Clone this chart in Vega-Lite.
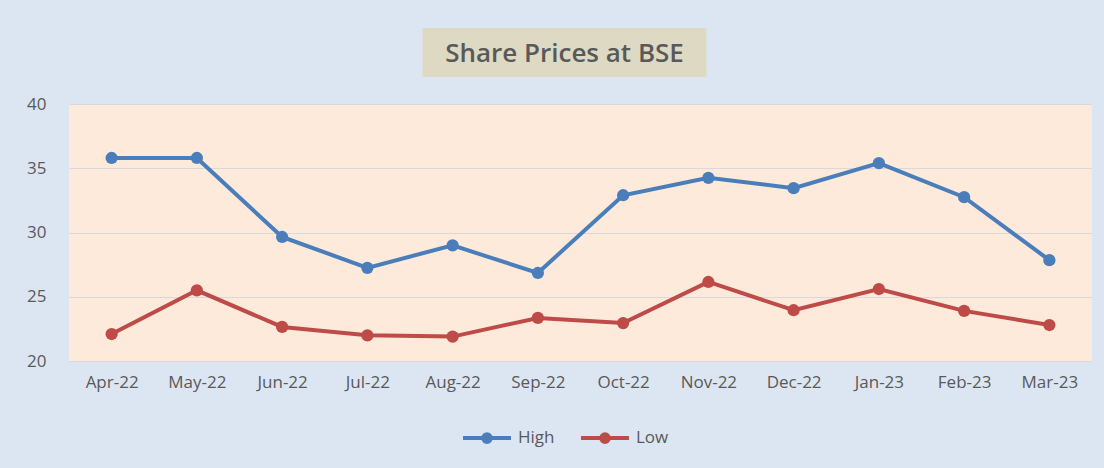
{
  "$schema": "https://vega.github.io/schema/vega-lite/v6.json",
  "background": "#dce6f2",
  "padding": {"left": 11, "top": 28, "right": 12, "bottom": 19},
  "config": {
    "font": "Open Sans",
    "view": {"fill": "#fdeada", "stroke": null}
  },
  "vconcat": [
    {
      "hconcat": [
        {
          "width": 284,
          "height": 49,
          "view": {"fill": "#ddd9c3", "stroke": null},
          "data": {"values": [{"t": "Share Prices at BSE"}]},
          "mark": {"type": "text", "font": "Open Sans", "fontSize": 26, "fontWeight": 600, "color": "#595959", "align": "center", "baseline": "middle", "dy": 1},
          "encoding": {"text": {"field": "t", "type": "nominal"}}
        },
        {
          "width": 32,
          "height": 49,
          "view": {"fill": null, "stroke": null},
          "data": {"values": [{"t": ""}]},
          "mark": {"type": "text"},
          "encoding": {"text": {"field": "t", "type": "nominal"}}
        }
      ],
      "spacing": 0
    },
    {
      "width": 1023,
      "height": 257,
      "data": {"values": [
        {"month": "Apr-22", "series": "High", "price": 35.8},
        {"month": "May-22", "series": "High", "price": 35.8},
        {"month": "Jun-22", "series": "High", "price": 29.65},
        {"month": "Jul-22", "series": "High", "price": 27.25},
        {"month": "Aug-22", "series": "High", "price": 29.0},
        {"month": "Sep-22", "series": "High", "price": 26.85},
        {"month": "Oct-22", "series": "High", "price": 32.9},
        {"month": "Nov-22", "series": "High", "price": 34.25},
        {"month": "Dec-22", "series": "High", "price": 33.45},
        {"month": "Jan-23", "series": "High", "price": 35.4},
        {"month": "Feb-23", "series": "High", "price": 32.75},
        {"month": "Mar-23", "series": "High", "price": 27.85},
        {"month": "Apr-22", "series": "Low", "price": 22.1},
        {"month": "May-22", "series": "Low", "price": 25.5},
        {"month": "Jun-22", "series": "Low", "price": 22.65},
        {"month": "Jul-22", "series": "Low", "price": 22.0},
        {"month": "Aug-22", "series": "Low", "price": 21.9},
        {"month": "Sep-22", "series": "Low", "price": 23.35},
        {"month": "Oct-22", "series": "Low", "price": 22.95},
        {"month": "Nov-22", "series": "Low", "price": 26.15},
        {"month": "Dec-22", "series": "Low", "price": 23.95},
        {"month": "Jan-23", "series": "Low", "price": 25.6},
        {"month": "Feb-23", "series": "Low", "price": 23.9},
        {"month": "Mar-23", "series": "Low", "price": 22.8}
      ]},
      "mark": {"type": "line", "strokeWidth": 4, "point": {"filled": true, "size": 150, "opacity": 1}},
      "encoding": {
        "x": {
          "field": "month", "type": "ordinal",
          "sort": ["Apr-22","May-22","Jun-22","Jul-22","Aug-22","Sep-22","Oct-22","Nov-22","Dec-22","Jan-23","Feb-23","Mar-23"],
          "scale": {"type": "point", "padding": 0.5},
          "axis": {"title": null, "labelAngle": 0, "labelFontSize": 17, "labelColor": "#595959", "domain": false, "ticks": false, "tickSize": 0, "labelPadding": 13, "grid": false}
        },
        "y": {
          "field": "price", "type": "quantitative",
          "scale": {"domain": [20, 40], "nice": false, "zero": false},
          "axis": {"title": null, "values": [20, 25, 30, 35, 40], "labelFontSize": 17, "labelColor": "#595959", "domain": false, "ticks": false, "tickSize": 0, "labelPadding": 23, "grid": true, "gridColor": "#d9d9d9", "gridWidth": 1.2, "minExtent": 58, "maxExtent": 58}
        },
        "color": {
          "field": "series", "type": "nominal",
          "scale": {"domain": ["High", "Low"], "range": ["#4a7ebb", "#be4b48"]},
          "legend": {
            "orient": "none", "legendX": 392, "legendY": 384, "direction": "horizontal",
            "title": null, "labelFontSize": 17, "labelColor": "#595959", "padding": 0,
            "symbolType": "M -1 0 L 1 0 M -0.16 0 A 0.16 0.16 0 1 1 0.16 0 A 0.16 0.16 0 1 1 -0.16 0",
            "symbolSize": 2304, "symbolStrokeWidth": 4, "labelOffset": 5, "columnPadding": 18,
            "encode": {"symbols": {"update": {"fill": {"scale": "color", "field": "value"}, "stroke": {"scale": "color", "field": "value"}, "opacity": {"value": 1}}}}
          }
        }
      }
    }
  ],
  "spacing": 18,
  "center": true
}
